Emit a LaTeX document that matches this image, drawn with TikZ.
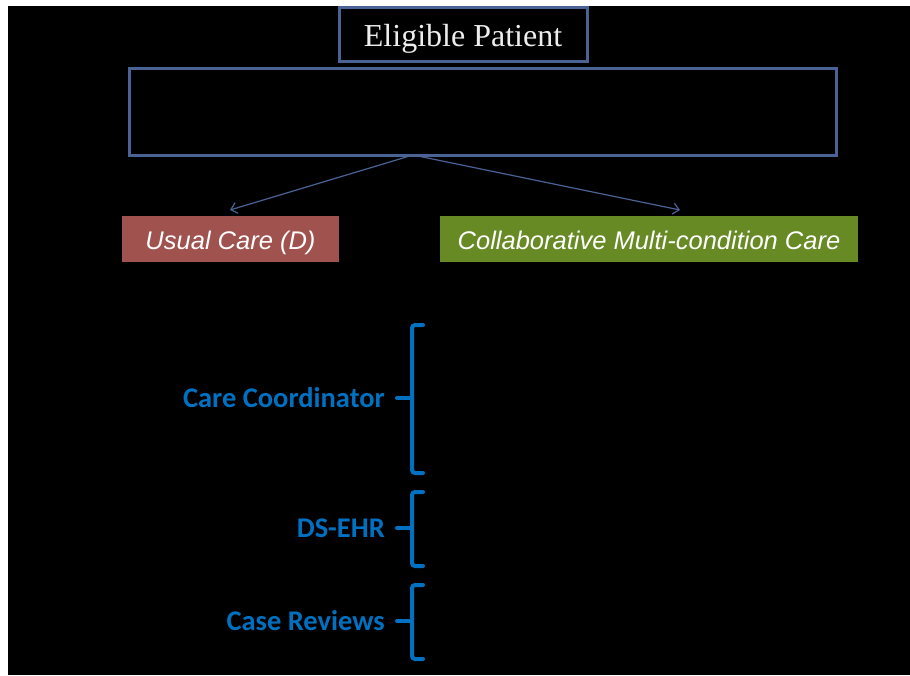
\documentclass[tikz,border=0pt]{standalone}
\usepackage{fontspec}
\setmainfont{Liberation Serif}
\newfontfamily\armfont{Liberation Sans}
\newfontfamily\calfont{Carlito}
\usetikzlibrary{arrows.meta}
\definecolor{frameblue}{HTML}{4A6294}
\definecolor{usualred}{HTML}{A0524F}
\definecolor{collabgreen}{HTML}{678A25}
\definecolor{labelblue}{HTML}{0070C0}
\definecolor{lighttext}{HTML}{EDEDED}
\tikzset{
  framebox/.style={draw=frameblue, line width=3pt, inner sep=0pt},
  armbox/.style={inner sep=0pt, text=white, text height=20pt, text depth=0pt,
                 font=\armfont\itshape\fontsize{25.5}{28}\selectfont},
  flow/.style={draw=frameblue, line width=1.2pt, -{Straight Barb[length=6pt,width=11pt]}},
  complabel/.style={anchor=east, inner sep=0pt, text=labelblue, font=\calfont\bfseries\fontsize{28.5}{32}\selectfont},
  bracket/.style={draw=labelblue, line width=4pt, rounded corners=3pt, line cap=round}
}
\begin{document}
\begin{tikzpicture}[x=1pt, y=-1pt]
  % page and dark slide area
  \fill[white] (0,0) rectangle (910,675);
  \fill[black] (8,6) rectangle (910,675);
  \useasboundingbox (0,0) rectangle (910,675);

  % top of the flow
  \node[framebox, minimum width=248pt, minimum height=54pt, text=lighttext,
        text height=25pt, text depth=0pt,
        font=\fontsize{32}{35}\selectfont] (elig) at (463,34) {Eligible Patient};
  \node[framebox, minimum width=707pt, minimum height=87pt] (rand) at (482.5,111.5) {};
  \coordinate (split) at (413,155);
  \coordinate (tousual) at (230,210);
  \coordinate (tocollab) at (680,210);
  \draw[flow] (split) -- (tousual);
  \draw[flow] (split) -- (tocollab);

  % study arms
  \node[armbox, fill=usualred, minimum width=217pt, minimum height=46pt] (usual) at (230.5,239) {Usual Care (D)};
  \node[armbox, fill=collabgreen, minimum width=418pt, minimum height=46pt] (collab) at (649,239) {Collaborative Multi-condition Care};

  % intervention components with their brackets
  \node[complabel] (coord) at (385,398) {Care Coordinator};
  \node[complabel] (dsehr) at (385,528) {DS-EHR};
  \node[complabel] (review) at (385,621) {Case Reviews};

  \draw[bracket] (423,325) -- (412,325) -- (412,473) -- (423,473);
  \draw[bracket] (397,398) -- (412,398);
  \draw[bracket] (423,492) -- (412,492) -- (412,566) -- (423,566);
  \draw[bracket] (397,528) -- (412,528);
  \draw[bracket] (423,585) -- (412,585) -- (412,659) -- (423,659);
  \draw[bracket] (397,621) -- (412,621);
\end{tikzpicture}
\end{document}
